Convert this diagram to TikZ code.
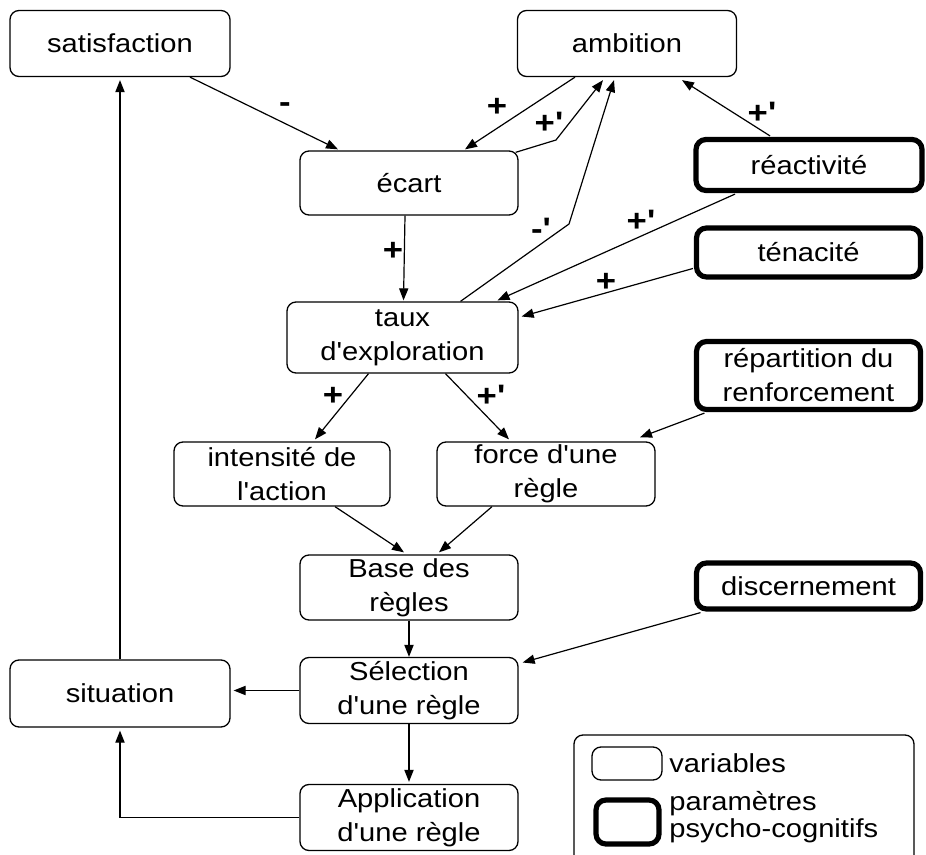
\documentclass[tikz,border=0pt]{standalone}
\usepackage{fontspec}
\setmainfont{Liberation Sans}[FakeStretch=1.12, Ligatures=TeXOff]
\usetikzlibrary{arrows.meta,calc}
\begin{document}
\begin{tikzpicture}[x=0.5pt,y=-0.5pt,
  every node/.style={font=\fontsize{13}{17}\selectfont},
  var/.style={draw, rounded corners=4.5pt, line width=0.65pt, align=center, inner sep=0pt},
  param/.style={draw, rounded corners=5pt, line width=2.6pt, align=center, inner sep=0pt},
  conn/.style={line width=0.6pt, -{Triangle[length=6pt,width=4.6pt]}},
  sgn/.style={inner sep=0pt, font=\fontsize{15.5}{17}\selectfont\bfseries}]
\useasboundingbox (0,0) rectangle (926,855);

% variables
\node[var, minimum width=110pt, minimum height=33pt] (sat) at (120,43.5) {satisfaction};
\node[var, minimum width=109.5pt, minimum height=33pt] (amb) at (627,43.5) {ambition};
\node[var, minimum width=109pt, minimum height=32pt] (ecart) at (409,183) {écart};
\node[var, minimum width=115.5pt, minimum height=35.5pt] (taux) at (402.5,337.5) {taux\\d'exploration};
\node[var, minimum width=108pt, minimum height=32pt] (int) at (282,474) {intensité de\\l'action};
\node[var, minimum width=109pt, minimum height=32pt] (force) at (546,474) {force d'une\\règle};
\node[var, minimum width=109pt, minimum height=32.5pt] (base) at (409,587.5) {Base des\\règles};
\node[var, minimum width=110pt, minimum height=33.5pt] (sit) at (120,693.5) {situation};
\node[var, minimum width=109pt, minimum height=33pt] (sel) at (409,690.5) {Sélection\\d'une règle};
\node[var, minimum width=109pt, minimum height=33pt] (app) at (409,817.5) {Application\\d'une règle};

% parameters
\node[param, minimum width=113pt, minimum height=25.5pt] (reac) at (809,165) {réactivité};
\node[param, minimum width=112pt, minimum height=24.5pt] (ten) at (808.5,252.5) {ténacité};
\node[param, minimum width=112pt, minimum height=34pt] (rep) at (808.5,375.5) {répartition du\\renforcement};
\node[param, minimum width=112pt, minimum height=23pt] (disc) at (808.5,586) {discernement};

% connectors
\draw[conn] ($(sat.south)+(70,0)$) -- ($(ecart.north)+(-71,-1)$);
\draw[conn] ($(amb.south)+(-52,0)$) -- ($(ecart.north)+(56,-1)$);
\draw[conn] ($(ecart.north east)+(-3,2)$) -- (556,140) -- ($(amb.south)+(-24,3)$);
\draw[conn] ($(ecart.south)+(-4,0)$) -- ($(taux.north)+(1,-1)$);
\draw[conn] ($(taux.north)+(58,0)$) -- (569,224) -- ($(amb.south)+(-13,3)$);
\draw[conn] ($(reac.north)+(-39,-1)$) -- ($(amb.south)+(55,3)$);
\draw[conn] ($(reac.south)+(-74,1)$) -- ($(taux.north)+(95,-1)$);
\draw[conn] ($(ten.west)+(-1,16)$) -- ($(taux.east)+(3,-21)$);
\draw[conn] ($(taux.south)+(-34,0)$) -- ($(int.north)+(33,-2)$);
\draw[conn] ($(taux.south)+(43,0)$) -- ($(force.north)+(-37,-2)$);
\draw[conn] ($(rep.south)+(-104,1)$) -- ($(force.north)+(94,-4)$);
\draw[conn] ($(int.south)+(53,0)$) -- ($(base.north)+(-5,-2)$);
\draw[conn] ($(force.south)+(-54,0)$) -- ($(base.north)+(30,-2)$);
\draw[conn] (base.south) -- (sel.north);
\draw[conn] ($(disc.south)+(-108,1)$) -- ($(sel.east)+(4,-28)$);
\draw[conn] (sel.west) -- ($(sit.east)+(3,-3)$);
\draw[conn] (sel.south) -- ($(app.north)+(0,-2)$);
\draw[conn] (app.west) -| ($(sit.south)+(0,3)$);
\draw[conn] (sit.north) -- ($(sat.south)+(0,3)$);

% signs
\node[sgn] (s1) at (285,108) {-};
\node[sgn] (s2) at (497,107) {+};
\node[sgn] (s3) at (549,123) {+'};
\node[sgn] (s4) at (393,251) {+};
\node[sgn] (s5) at (541,229) {-'};
\node[sgn] (s6) at (762,113) {+'};
\node[sgn] (s7) at (641,221) {+'};
\node[sgn] (s8) at (606,282) {+};
\node[sgn] (s9) at (333,396) {+};
\node[sgn] (s10) at (491,396) {+'};

% legend
\draw[rounded corners=4.5pt, line width=0.65pt] (574,870) -- (574,735) -- (914,735) -- (914,870);
\node[var, minimum width=35pt, minimum height=16.5pt] (lv) at (627,763.5) {};
\node[param, minimum width=31.5pt, minimum height=22pt] (lp) at (627.5,822) {};
\node[anchor=west, inner sep=0pt] (lvt) at (669,763) {variables};
\node[anchor=west, inner sep=0pt, align=left, font=\fontsize{13}{13.5}\selectfont] (lpt) at (669,817) {paramètres\\psycho-cognitifs};
\end{tikzpicture}
\end{document}
